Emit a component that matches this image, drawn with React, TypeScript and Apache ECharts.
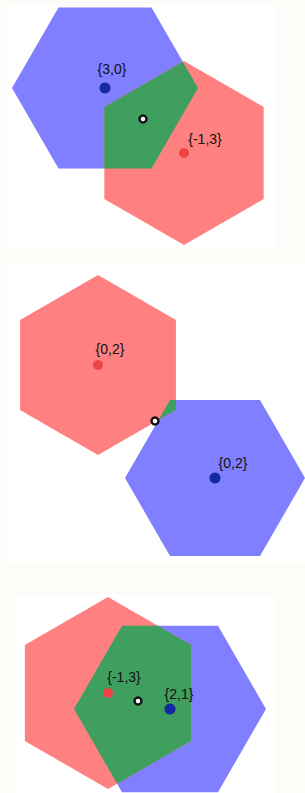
import React, { useEffect, useRef } from "react";
import * as echarts from "echarts";

// ---- data ----
const panelNames = ["top", "middle", "bottom"];
const blueCenterX = [105, 215, 170];
const blueCenterY = [88, 478, 709];
const blueRadius = [93, 90, 96];
const blueLabels = ["{3,0}", "{0,2}", "{2,1}"];
const redCenterX = [184, 98, 108];
const redCenterY = [153, 365, 693];
const redRadius = [92, 90, 96];
const redLabels = ["{-1,3}", "{0,2}", "{-1,3}"];
const queryX = [143, 155, 138];
const queryY = [119, 421, 701];

// ---- styling ----
const W = 305;
const H = 793;
const BLUE = "#7f7fff";
const RED = "#ff8080";
const GREEN = "#3f9f5f";
const BLUE_DOT = "#1428a0";
const RED_DOT = "#ee4444";
const blueLabelOffsets = [[7, -19], [18, -15], [9, -15]];
const redLabelOffsets = [[21, -14], [12, -16], [16, -16]];
const panelRects = [
  { x: 7, y: 3, w: 270, h: 246 },
  { x: 7, y: 264, w: 298, h: 298 },
  { x: 17, y: 595, w: 258, h: 198 },
];

type Pt = [number, number];

function hexVerts(cx: number, cy: number, r: number, flatTop: boolean): Pt[] {
  const pts: Pt[] = [];
  for (let i = 0; i < 6; i++) {
    const a = ((flatTop ? 0 : 30) + 60 * i) * Math.PI / 180;
    pts.push([cx + r * Math.cos(a), cy + r * Math.sin(a)]);
  }
  return pts;
}

function area(p: Pt[]) {
  let s = 0;
  for (let i = 0; i < p.length; i++) {
    const a = p[i], b = p[(i + 1) % p.length];
    s += a[0] * b[1] - b[0] * a[1];
  }
  return s / 2;
}

function clip(subject: Pt[], clipper: Pt[]): Pt[] {
  const sign = area(clipper) > 0 ? 1 : -1;
  let out = subject.slice();
  for (let i = 0; i < clipper.length && out.length; i++) {
    const A = clipper[i], B = clipper[(i + 1) % clipper.length];
    const inside = (p: Pt) => sign * ((B[0] - A[0]) * (p[1] - A[1]) - (B[1] - A[1]) * (p[0] - A[0])) >= 0;
    const inter = (p: Pt, q: Pt): Pt => {
      const x1 = p[0], y1 = p[1], x2 = q[0], y2 = q[1];
      const x3 = A[0], y3 = A[1], x4 = B[0], y4 = B[1];
      const d = (x1 - x2) * (y3 - y4) - (y1 - y2) * (x3 - x4);
      const t = ((x1 - x3) * (y3 - y4) - (y1 - y3) * (x3 - x4)) / d;
      return [x1 + t * (x2 - x1), y1 + t * (y2 - y1)];
    };
    const input = out;
    out = [];
    for (let j = 0; j < input.length; j++) {
      const cur = input[j], prev = input[(j + input.length - 1) % input.length];
      if (inside(cur)) {
        if (!inside(prev)) out.push(inter(prev, cur));
        out.push(cur);
      } else if (inside(prev)) {
        out.push(inter(prev, cur));
      }
    }
  }
  return out;
}

export default function App() {
  const ref = useRef<HTMLDivElement>(null);
  useEffect(() => {
    if (!ref.current) return;
    const chart = echarts.init(ref.current, null, { renderer: "svg" });

    const hexData = panelNames.map((_, i) => [
      blueCenterX[i], blueCenterY[i], blueRadius[i],
      redCenterX[i], redCenterY[i], redRadius[i],
    ]);

    const renderHex = (params: any, api: any) => {
      const bx = api.value(0), by = api.value(1), br = api.value(2);
      const rx = api.value(3), ry = api.value(4), rr = api.value(5);
      const blue = hexVerts(bx, by, br, true);
      const red = hexVerts(rx, ry, rr, false);
      const green = clip(blue, red);
      const toPx = (p: Pt[]) => p.map((q) => api.coord(q));
      const children: any[] = [
        { type: "polygon", shape: { points: toPx(blue) }, style: { fill: BLUE } },
        { type: "polygon", shape: { points: toPx(red) }, style: { fill: RED } },
      ];
      if (green.length > 2) {
        children.push({ type: "polygon", shape: { points: toPx(green) }, style: { fill: GREEN } });
      }
      return { type: "group", children };
    };

    const labelStyle = {
      color: "#111",
      fontSize: 14,
      fontFamily: "Liberation Sans, Arial, sans-serif",
    };

    chart.setOption({
      animation: false,
      backgroundColor: "#fcfcf8",
      grid: { left: 0, right: 0, top: 0, bottom: 0 },
      xAxis: { type: "value", min: 0, max: W, show: false },
      yAxis: { type: "value", min: 0, max: H, inverse: true, show: false },
      graphic: panelRects.map((r) => ({
        type: "rect",
        z: -10,
        shape: { x: r.x, y: r.y, width: r.w, height: r.h },
        style: { fill: "#ffffff" },
        silent: true,
      })),
      series: [
        {
          type: "custom",
          renderItem: renderHex,
          data: hexData,
          z: 1,
          silent: true,
        },
        {
          type: "scatter",
          z: 3,
          symbolSize: 11,
          itemStyle: { color: BLUE_DOT, opacity: 1 },
          data: panelNames.map((_, i) => ({
            value: [blueCenterX[i], blueCenterY[i]],
            name: blueLabels[i],
            label: {
              show: true,
              formatter: blueLabels[i],
              position: "inside",
              offset: blueLabelOffsets[i],
              ...labelStyle,
            },
          })),
        },
        {
          type: "scatter",
          z: 3,
          symbolSize: 10,
          itemStyle: { color: RED_DOT, opacity: 1 },
          data: panelNames.map((_, i) => ({
            value: [redCenterX[i], redCenterY[i]],
            name: redLabels[i],
            label: {
              show: true,
              formatter: redLabels[i],
              position: "inside",
              offset: redLabelOffsets[i],
              ...labelStyle,
            },
          })),
        },
        {
          type: "scatter",
          z: 4,
          symbolSize: 7,
          itemStyle: { color: "#ffffff", borderColor: "#111111", borderWidth: 2.5, opacity: 1 },
          data: panelNames.map((_, i) => [queryX[i], queryY[i]]),
        },
      ],
    });
    return () => chart.dispose();
  }, []);

  return (
    <div
      ref={ref}
      style={{ position: "absolute", left: 0, top: 0, width: W, height: H }}
    />
  );
}
